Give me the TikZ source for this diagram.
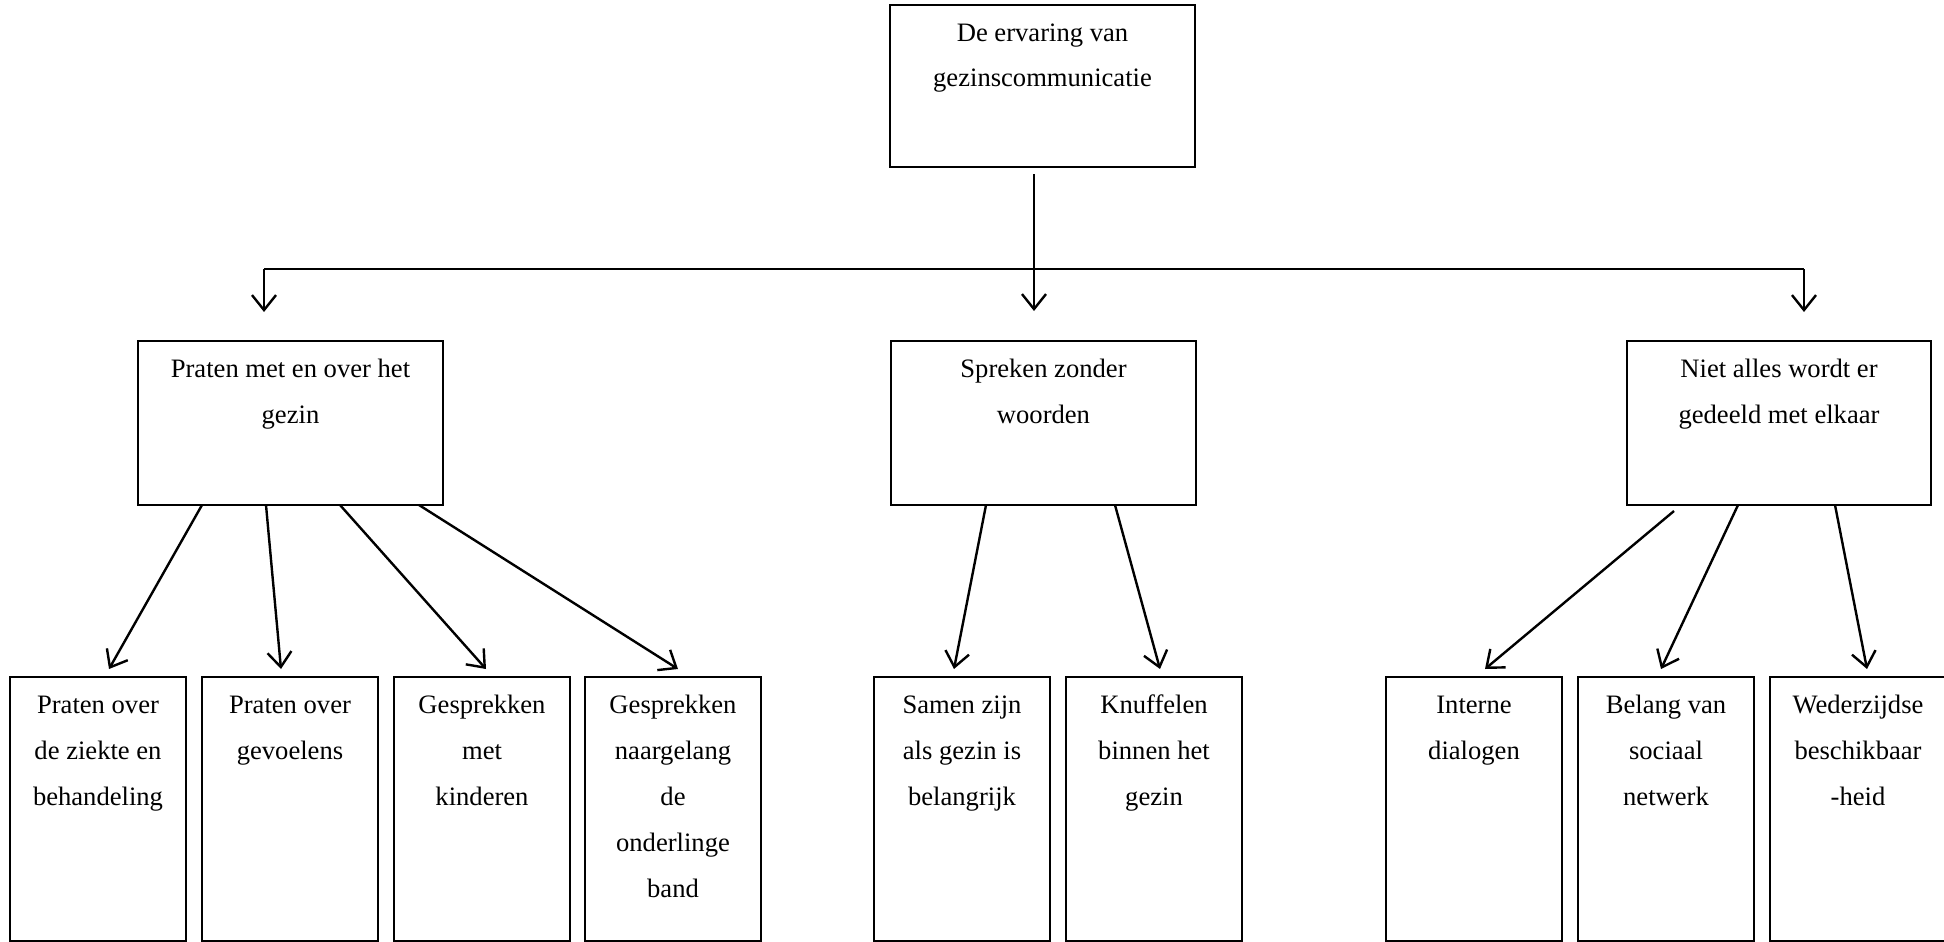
\documentclass[tikz,border=0pt]{standalone}
\usepackage{fontspec}
\setmainfont{Liberation Serif}
\usetikzlibrary{arrows.meta}
\newcommand{\bxtext}[3]{\parbox[c][#2][t]{#1}{\centering\rule{0pt}{36pt}#3}}
\tikzset{
  boxnode/.style={draw, line width=2.2pt, inner sep=0pt, outer sep=0pt, anchor=north west,
    font=\fontsize{26.6}{46}\selectfont},
  conn/.style={line width=2.4pt},
  arr/.style={line width=2.4pt, -{Straight Barb[length=15pt,width=24pt,line width=2.4pt]}},
}
\begin{document}
\begin{tikzpicture}[x=1pt,y=-1pt]
\useasboundingbox (0,0) rectangle (1944,942);
% top
\node[boxnode] (top) at (890,5) {\bxtext{305pt}{162pt}{De ervaring van\\gezinscommunicatie}};
% level 2
\node[boxnode] (L) at (138,341) {\bxtext{305pt}{164pt}{Praten met en over het\\gezin}};
\node[boxnode] (M) at (891,341) {\bxtext{305pt}{164pt}{Spreken zonder\\woorden}};
\node[boxnode] (R) at (1627,341) {\bxtext{304pt}{164pt}{Niet alles wordt er\\gedeeld met elkaar}};
% level 3
\node[boxnode] (l1) at (10,677) {\bxtext{176pt}{264pt}{Praten over\\de ziekte en\\behandeling}};
\node[boxnode] (l2) at (202,677) {\bxtext{176pt}{264pt}{Praten over\\gevoelens}};
\node[boxnode] (l3) at (394,677) {\bxtext{176pt}{264pt}{Gesprekken\\met\\kinderen}};
\node[boxnode] (l4) at (585,677) {\bxtext{176pt}{264pt}{Gesprekken\\naargelang\\de\\onderlinge\\band}};
\node[boxnode] (m1) at (874,677) {\bxtext{176pt}{264pt}{Samen zijn\\als gezin is\\belangrijk}};
\node[boxnode] (m2) at (1066,677) {\bxtext{176pt}{264pt}{Knuffelen\\binnen het\\gezin}};
\node[boxnode] (r1) at (1386,677) {\bxtext{176pt}{264pt}{Interne\\dialogen}};
\node[boxnode] (r2) at (1578,677) {\bxtext{176pt}{264pt}{Belang van\\sociaal\\netwerk}};
\node[boxnode] (r3) at (1770,677) {\bxtext{176pt}{264pt}{Wederzijdse\\beschikbaar\\-heid}};
% top-level connectors
\coordinate (jL) at (264,269);
\coordinate (jR) at (1804,269);
\draw[conn] (jL) -- (jR);
\draw[arr] ([xshift=-8.5pt,yshift=-7pt]top.south) -- ++(0,-137pt);
\draw[arr] (jL) -- ++(0,-43pt);
\draw[arr] (jR) -- ++(0,-43pt);
% left group
\draw[arr] ([xshift=-88.5pt]L.south) -- ([xshift=11pt,yshift=8pt]l1.north);
\draw[arr] ([xshift=-24.5pt]L.south) -- ([xshift=-9pt,yshift=8pt]l2.north);
\draw[arr] ([xshift=49.5pt]L.south) -- ([xshift=4pt,yshift=8pt]l3.north);
\draw[arr] ([xshift=128.5pt]L.south) -- ([xshift=5pt,yshift=8pt]l4.north);
% middle group
\draw[arr] ([xshift=-57.5pt]M.south) -- ([xshift=-8pt,yshift=8pt]m1.north);
\draw[arr] ([xshift=71.5pt]M.south) -- ([xshift=6pt,yshift=8pt]m2.north);
% right group
\draw[arr] ([xshift=-105pt,yshift=-6pt]R.south) -- ([xshift=11pt,yshift=8pt]r1.north);
\draw[arr] ([xshift=-41pt]R.south) -- ([xshift=-5pt,yshift=8pt]r2.north);
\draw[arr] ([xshift=56pt]R.south) -- ([xshift=9pt,yshift=8pt]r3.north);
\end{tikzpicture}
\end{document}
